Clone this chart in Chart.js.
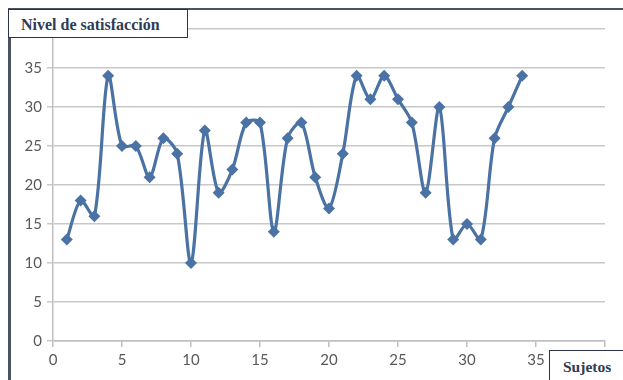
<!DOCTYPE html>
<html>
<head>
<meta charset="utf-8">
<script src="https://cdn.jsdelivr.net/npm/chart.js@4/dist/chart.umd.min.js"></script>
<style>
  html, body { margin: 0; padding: 0; background: #fff; }
  #wrap { position: relative; width: 623px; height: 380px; overflow: hidden; }
  #chart { position: absolute; left: 0; top: 0; }
  .frameTop { position: absolute; left: 8px; top: 8px; width: 615px; height: 2px; background: #4b5264; }
  .frameLeft { position: absolute; left: 8px; top: 8px; width: 3px; height: 372px; background: #4b5264; }
  .box {
    position: absolute; background: #fff; border: 1px solid #2b3348;
    font-family: "Liberation Serif", serif; font-weight: bold; color: #2f3b55;
    box-sizing: border-box;
  }
  #ytitle { left: 8px; top: 9px; width: 180px; height: 29px; padding: 6px 0 0 12px; font-size: 16px; }
  #xtitle { left: 549px; top: 350px; width: 80px; height: 32px; padding: 7px 0 0 13px; font-size: 15.5px; }
</style>
</head>
<body>
<div id="wrap">
  <canvas id="chart" width="623" height="380"></canvas>
  <div class="frameTop"></div>
  <div class="frameLeft"></div>
  <div class="box" id="ytitle">Nivel de satisfacción</div>
  <div class="box" id="xtitle">Sujetos</div>
</div>
<script>
// Sujetos 1..34 and their satisfaction level
const subjects = [1,2,3,4,5,6,7,8,9,10,11,12,13,14,15,16,17,18,19,20,21,22,23,24,25,26,27,28,29,30,31,32,33,34];
const satisfaction = [13,18,16,34,25,25,21,26,24,10,27,19,22,28,28,14,26,28,21,17,24,34,31,34,31,28,19,30,13,15,13,26,30,34];
const yTicks = [0,5,10,15,20,25,30,35,40];
const xTicks = [0,5,10,15,20,25,30,35,40];

const lineColor = "#4a72a4";
const points = subjects.map((s, i) => ({ x: s, y: satisfaction[i] }));

const ctx = document.getElementById("chart").getContext("2d");
new Chart(ctx, {
  type: "line",
  data: {
    datasets: [{
      data: points,
      borderColor: lineColor,
      backgroundColor: lineColor,
      borderWidth: 3.2,
      tension: 0.3,
      pointStyle: "rectRot",
      pointRadius: 6,
      pointBorderWidth: 0,
      pointBackgroundColor: lineColor
    }]
  },
  options: {
    responsive: false,
    animation: false,
    layout: { padding: { top: 29, right: 18, left: 0, bottom: 0 } },
    plugins: { legend: { display: false }, tooltip: { enabled: false } },
    scales: {
      x: {
        type: "linear",
        min: 0, max: 40,
        afterBuildTicks: axis => { axis.ticks = xTicks.map(v => ({ value: v })); },
        afterFit: axis => { axis.height = 39; },
        grid: { drawOnChartArea: false, drawTicks: true, tickLength: 6, color: "#bfbfbf", lineWidth: 1.5 },
        border: { color: "#bfbfbf", width: 1.5 },
        ticks: { color: "#595959", font: { family: "Lato", size: 15 }, padding: 4, maxRotation: 0 }
      },
      y: {
        min: 0, max: 40,
        afterBuildTicks: axis => { axis.ticks = yTicks.map(v => ({ value: v })); },
        afterFit: axis => { axis.width = 53; },
        grid: { color: "#c8c8c8", lineWidth: 1.5, tickLength: 6 },
        border: { color: "#bfbfbf", width: 1.5 },
        ticks: { color: "#595959", font: { family: "Lato", size: 15 }, padding: 5 }
      }
    }
  }
});
</script>
</body>
</html>
